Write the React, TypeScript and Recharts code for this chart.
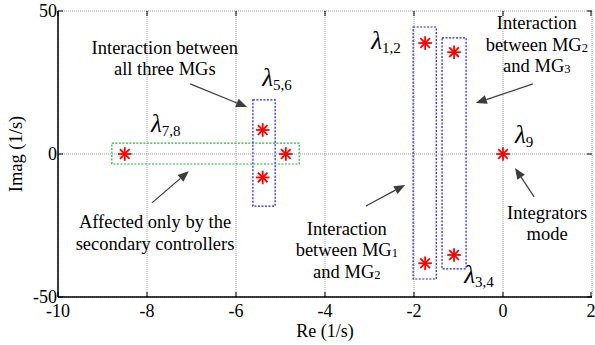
import React from "react";
import {
  CartesianGrid,
  ReferenceArea,
  ReferenceDot,
  ReferenceLine,
  Scatter,
  ScatterChart,
  XAxis,
  YAxis,
} from "recharts";

// eigenvalues (real / imaginary parts)
const reParts = [-1.75, -1.75, -1.1, -1.1, -5.4, -5.4, -8.5, -4.88, 0];
const imParts = [38.8, -38.2, 35.6, -35.3, 8.4, -8.2, 0, 0, 0];

const xTicks = [-10, -8, -6, -4, -2, 0, 2];
const yTicks = [-50, 0, 50];

// dotted boxes grouping the modes
const boxX1 = [-8.79, -5.62, -2.02, -1.37];
const boxX2 = [-4.58, -5.12, -1.5, -0.83];
const boxY1 = [-3.5, -18.2, -43.7, -40.2];
const boxY2 = [3.8, 18.9, 44.4, 40.6];
const boxColors = ["#1fb43c", "#1a1aff", "#1a1aff", "#1a1aff"];

// lambda labels: subscript, anchored at left / baseline of the lambda
const lambdaSubs = ["5,6", "7,8", "1,2", "3,4", "9"];
const lambdaX = [-5.41, -7.91, -2.96, -0.87, 0.27];
const lambdaY = [23.8, 7.7, 36.7, -45.1, 3.8];

// text notes, "_x" means subscript x
const notes = [
  ["Interaction between", "all three MGs"],
  ["Interaction", "between MG_2", "and MG_3"],
  ["Integrators", "mode"],
  ["Interaction", "between MG_1", "and MG_2"],
  ["Affected only by the", "secondary controllers"],
];
const noteX = [-7.6, 0.76, 0.99, -3.51, -7.82];
const noteY = [37.1, 45.8, -20.6, -26.2, -23.8];

// arrows: tail -> head
const arrowFromX = [-7.03, -7.89, 0.67, 0.7, -3.08];
const arrowFromY = [24.5, -17.1, 24.5, -15.0, -18.2];
const arrowToX = [-5.75, -7.06, -0.61, 0.27, -2.2];
const arrowToY = [16.4, -6.0, 17.8, -4.9, -10.8];

const PLOT_TOP = 11;
const PLOT_BOTTOM = 297;
const PLOT_LEFT = 58;
const PLOT_RIGHT = 592;
const FONT = "Liberation Serif";
const SERIF = { fontFamily: FONT };

const points = reParts.map((re, i) => ({ re, im: imParts[i] }));

const Asterisk = (props: any) => {
  const { cx, cy } = props;
  const r = 6.8;
  const d = r * Math.SQRT1_2;
  return (
    <g stroke="#ff0000" strokeWidth={1.8}>
      <line x1={cx - r} y1={cy} x2={cx + r} y2={cy} />
      <line x1={cx} y1={cy - r} x2={cx} y2={cy + r} />
      <line x1={cx - d} y1={cy - d} x2={cx + d} y2={cy + d} />
      <line x1={cx - d} y1={cy + d} x2={cx + d} y2={cy - d} />
    </g>
  );
};

const Arrow = (props: any) => {
  const { x1, y1, x2, y2 } = props;
  const ang = Math.atan2(y2 - y1, x2 - x1);
  const len = 11;
  const w = 4.5;
  const bx = x2 - len * Math.cos(ang);
  const by = y2 - len * Math.sin(ang);
  const px = -Math.sin(ang) * w;
  const py = Math.cos(ang) * w;
  return (
    <g>
      <line x1={x1} y1={y1} x2={bx} y2={by} stroke="#3c3c3c" strokeWidth={1.2} />
      <polygon
        points={`${x2},${y2} ${bx + px},${by + py} ${bx - px},${by - py}`}
        fill="#3c3c3c"
      />
    </g>
  );
};

const renderLine = (line: string) => {
  const parts = line.split(/_(\w)/);
  return parts.map((p, k) =>
    k % 2 === 1 ? (
      <tspan key={k} fontSize={12.5} dy={3}>
        {p}
      </tspan>
    ) : (
      <tspan key={k} dy={k > 0 ? -3 : 0}>
        {p}
      </tspan>
    )
  );
};

const NoteShape = (lines: string[]) => (props: any) => {
  const { cx, cy } = props;
  return (
    <g>
      {lines.map((line, i) => (
        <text
          key={i}
          x={cx}
          y={cy + i * 21.5}
          textAnchor="middle"
          dominantBaseline="central"
          style={SERIF}
          fontSize={18.5}
          fill="#000"
        >
          {renderLine(line)}
        </text>
      ))}
    </g>
  );
};

const LambdaShape = (sub: string) => (props: any) => {
  const { cx, cy } = props;
  return (
    <text x={cx} y={cy} style={SERIF} fill="#000">
      <tspan fontSize={25} fontStyle="italic">
        λ
      </tspan>
      <tspan fontSize={15} dy={4}>
        {sub}
      </tspan>
    </text>
  );
};

const XTick = (props: any) => {
  const { x, payload } = props;
  return (
    <g>
      <line x1={x} y1={PLOT_BOTTOM} x2={x} y2={PLOT_BOTTOM - 5} stroke="#000" />
      <line x1={x} y1={PLOT_TOP} x2={x} y2={PLOT_TOP + 5} stroke="#000" />
      <text
        x={x}
        y={PLOT_BOTTOM + 20}
        textAnchor="middle"
        style={SERIF}
        fontSize={18}
        fill="#000"
      >
        {payload.value}
      </text>
    </g>
  );
};

const YTick = (props: any) => {
  const { y, payload } = props;
  return (
    <g>
      <line x1={PLOT_LEFT} y1={y} x2={PLOT_LEFT + 5} y2={y} stroke="#000" />
      <line x1={PLOT_RIGHT} y1={y} x2={PLOT_RIGHT - 5} y2={y} stroke="#000" />
      <text
        x={PLOT_LEFT - 1}
        y={y + 6}
        textAnchor="end"
        style={SERIF}
        fontSize={18}
        fill="#000"
      >
        {payload.value}
      </text>
    </g>
  );
};

export default function App() {
  return (
    <div style={{ position: "absolute", left: 0, top: 0, background: "#fff", fontFamily: FONT }}>
      <ScatterChart
        width={595}
        height={345}
        style={SERIF}
        margin={{ top: PLOT_TOP, right: 595 - PLOT_RIGHT, left: 8, bottom: 0 }}
      >
        <CartesianGrid stroke="#a0a0a0" strokeDasharray="1 1" />
        <XAxis
          type="number"
          dataKey="re"
          domain={[-10, 2]}
          ticks={xTicks}
          allowDataOverflow
          height={48}
          stroke="#000"
          strokeWidth={1.5}
          tickLine={false}
          tick={<XTick />}
          label={{
            content: () => (
              <text
                x={(PLOT_LEFT + PLOT_RIGHT) / 2}
                y={337}
                textAnchor="middle"
                style={SERIF}
                fontSize={18}
                fill="#000"
              >
                Re (1/s)
              </text>
            ),
          }}
        />
        <XAxis
          xAxisId="top"
          orientation="top"
          type="number"
          domain={[-10, 2]}
          height={0}
          stroke="#000"
          strokeWidth={1.5}
          tick={false}
          tickLine={false}
        />
        <YAxis
          type="number"
          dataKey="im"
          domain={[-50, 50]}
          ticks={yTicks}
          allowDataOverflow
          width={50}
          stroke="#000"
          strokeWidth={1.5}
          tickLine={false}
          tick={<YTick />}
          label={{
            content: () => (
              <text
                transform="translate(16,154) rotate(-90)"
                textAnchor="middle"
                dominantBaseline="central"
                style={SERIF}
                fontSize={18.5}
                fill="#000"
              >
                Imag (1/s)
              </text>
            ),
          }}
        />
        <YAxis
          yAxisId="right"
          orientation="right"
          type="number"
          domain={[-50, 50]}
          width={0}
          stroke="#000"
          strokeWidth={1.5}
          tick={false}
          tickLine={false}
        />
        {boxX1.map((x1, i) => (
          <ReferenceArea
            key={`box${i}`}
            x1={x1}
            x2={boxX2[i]}
            y1={boxY1[i]}
            y2={boxY2[i]}
            fill="none"
            fillOpacity={0}
            stroke={boxColors[i]}
            strokeWidth={1.2}
            strokeDasharray="2 1.5"
          />
        ))}
        {arrowFromX.map((fx, i) => (
          <ReferenceLine
            key={`arr${i}`}
            segment={[
              { x: fx, y: arrowFromY[i] },
              { x: arrowToX[i], y: arrowToY[i] },
            ]}
            shape={Arrow}
          />
        ))}
        {notes.map((lines, i) => (
          <ReferenceDot
            key={`note${i}`}
            x={noteX[i]}
            y={noteY[i]}
            r={0}
            shape={NoteShape(lines)}
          />
        ))}
        {lambdaSubs.map((sub, i) => (
          <ReferenceDot
            key={`lam${i}`}
            x={lambdaX[i]}
            y={lambdaY[i]}
            r={0}
            shape={LambdaShape(sub)}
          />
        ))}
        <Scatter data={points} shape={Asterisk} isAnimationActive={false} />
      </ScatterChart>
    </div>
  );
}
